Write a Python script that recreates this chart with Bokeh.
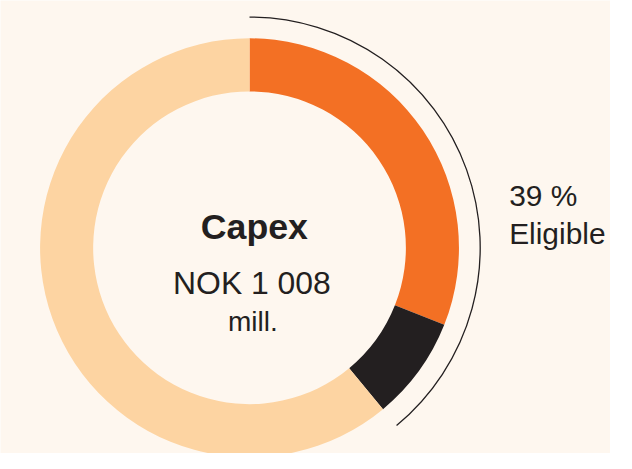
import math
from bokeh.plotting import figure
from bokeh.models import Range1d, ColumnDataSource
from bokeh.core.properties import value
from bokeh.embed import file_html
from bokeh.resources import INLINE

# Data
categories = ["Eligible, aligned", "Eligible, not aligned", "Not eligible"]
shares = [31, 8, 61]  # percent of Capex
colors = ["#F37024", "#231F20", "#FDD4A2"]
title_text = "Capex"
amount_text = "NOK 1 008"
unit_text = "mill."
eligible_label = "Eligible"

BG = "#FEF7EF"
INK = "#231F20"

# whole reference canvas (632 x 469) shown in a figure that fits the window
REF_W, REF_H = 632, 469
W, H = 610, 453
S = H / REF_H

p = figure(width=W, height=H, output_backend="svg", toolbar_location=None,
           x_range=Range1d(0, REF_W), y_range=Range1d(0, REF_H),
           min_border=0, background_fill_color=BG, border_fill_color=BG)
p.axis.visible = False
p.grid.visible = False
p.outline_line_color = None

cx, cy = 258, REF_H - 256
r_in, r_out, r_arc = 162, 217, 239

total = sum(shares)
starts, ends = [], []
acc = 0.0
for s in shares:
    a0 = math.pi / 2 - 2 * math.pi * acc / total
    acc += s
    a1 = math.pi / 2 - 2 * math.pi * acc / total
    starts.append(a0)
    ends.append(a1)

src = ColumnDataSource(dict(cat=categories, share=shares, color=colors,
                            start=starts, end=ends))
p.annular_wedge(x=cx, y=cy, inner_radius=r_in, outer_radius=r_out,
                start_angle="start", end_angle="end", direction="clock",
                fill_color="color", line_color=None, source=src)

eligible = shares[0] + shares[1]
p.arc(x=cx, y=cy, radius=r_arc, start_angle=math.pi / 2,
      end_angle=math.pi / 2 - 2 * math.pi * eligible / total,
      direction="clock", line_color=INK, line_width=1.3)

font = value("Liberation Sans")

def fs(px):
    return f"{px * S:.1f}px"

p.text(x=[263], y=[REF_H - 234], text=[title_text], text_font=font,
       text_font_size=fs(37), text_font_style="bold", text_color=INK,
       text_align="center", text_baseline="alphabetic")
p.text(x=[260.5], y=[REF_H - 292], text=[amount_text], text_font=font,
       text_font_size=fs(33), text_color=INK,
       text_align="center", text_baseline="alphabetic")
p.text(x=[261.5], y=[REF_H - 332], text=[unit_text], text_font=font,
       text_font_size=fs(29), text_color=INK,
       text_align="center", text_baseline="alphabetic")
p.text(x=[527], y=[REF_H - 202], text=[f"{eligible} %"], text_font=font,
       text_font_size=fs(31), text_color=INK,
       text_align="left", text_baseline="alphabetic")
p.text(x=[527], y=[REF_H - 241], text=[eligible_label], text_font=font,
       text_font_size=fs(31), text_color=INK,
       text_align="left", text_baseline="alphabetic")

open("out.html", "w").write(file_html(p, INLINE))
